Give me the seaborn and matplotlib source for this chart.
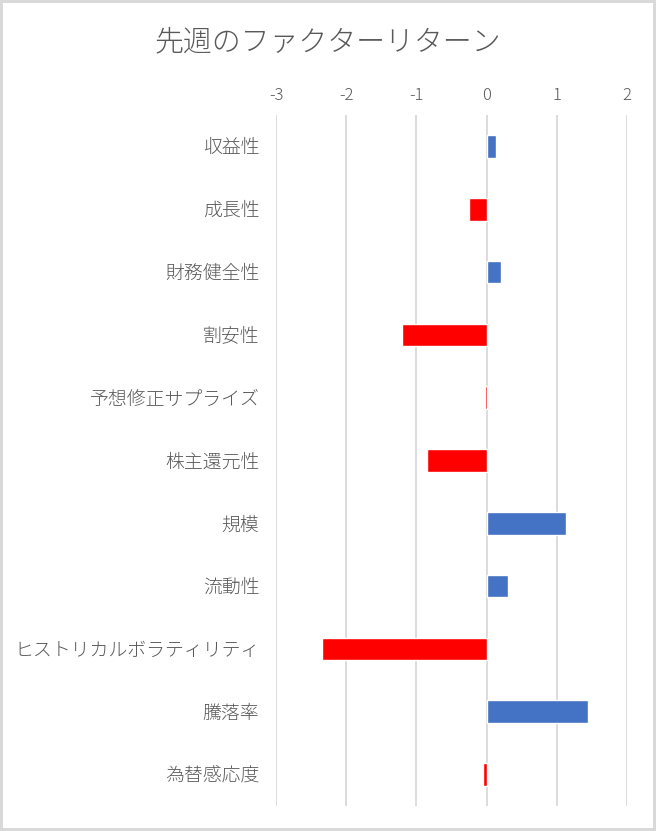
import matplotlib
matplotlib.use("Agg")
import matplotlib.pyplot as plt
import pandas as pd
import seaborn as sns

FACTORS = [
    "収益性", "成長性", "財務健全性", "割安性", "予想修正サプライズ", "株主還元性",
    "規模", "流動性", "ヒストリカルボラティリティ", "騰落率", "為替感応度",
]
RETURNS = [0.14, -0.25, 0.20, -1.20, -0.02, -0.85, 1.13, 0.31, -2.35, 1.44, -0.05]
X_TICKS = [-3, -2, -1, 0, 1, 2]
TITLE = "先週のファクターリターン"

BLUE = "#4472C4"
RED = "#FF0000"
TEXT = "#595959"
GRID = "#D9D9D9"

sns.set_style("white")
plt.rcParams["font.family"] = ["Noto Sans CJK JP", "DejaVu Sans"]
plt.rcParams["font.weight"] = "light"

df = pd.DataFrame({"factor": FACTORS, "ret": RETURNS})
df["sign"] = ["pos" if v >= 0 else "neg" for v in df["ret"]]

fig = plt.figure(figsize=(6.56, 8.31), dpi=100)
fig.patch.set_edgecolor(GRID)
fig.patch.set_linewidth(3)
ax = fig.add_axes([276 / 656, 1 - 806 / 831, (627 - 276) / 656, (806 - 115) / 831])

sns.barplot(
    data=df, x="ret", y="factor", hue="sign", order=FACTORS,
    palette={"pos": BLUE, "neg": RED}, dodge=False, legend=False,
    width=0.36, orient="h", ax=ax, zorder=3, saturation=1,
)

ax.set_xlim(-3, 2)
ax.set_ylim(len(FACTORS) - 0.5, -0.5)
ax.set_xticks(X_TICKS)
ax.set_xticklabels([str(t) for t in X_TICKS])
ax.xaxis.tick_top()
ax.tick_params(axis="x", length=0, pad=8, labelsize=12, labelcolor=TEXT)
ax.tick_params(axis="y", length=0, pad=12, labelsize=13.6, labelcolor=TEXT)
for t in X_TICKS:
    ax.axvline(t, color=GRID, linewidth=1.3, zorder=1)
for s in ax.spines.values():
    s.set_visible(False)
ax.set_xlabel("")
ax.set_ylabel("")

fig.text(0.5, 1 - 42 / 831, TITLE, ha="center", va="center", fontsize=20.8, color=TEXT)

fig.savefig("out.png", dpi=100, edgecolor=fig.get_edgecolor())
